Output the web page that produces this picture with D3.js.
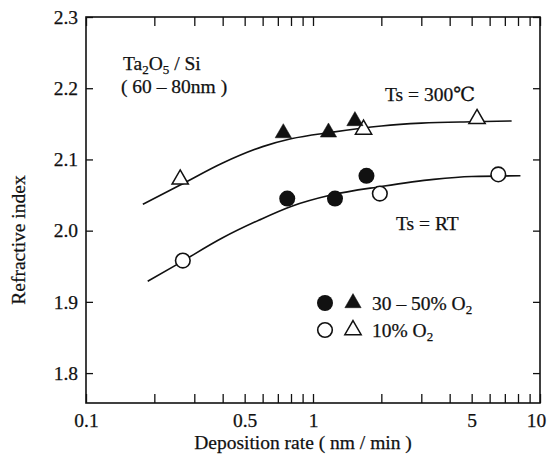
<!DOCTYPE html>
<html><head><meta charset="utf-8">
<script src="https://cdn.jsdelivr.net/npm/d3@7"></script>
<style>
body{margin:0;background:#fff}
svg text{font-family:'Liberation Serif','Times New Roman','DejaVu Serif',serif !important;fill:#111;stroke:#111;stroke-width:0.25px}
</style>
</head><body><svg id="c" width="548" height="458"></svg>
<script>
// ---- data ----
const xTickValues = [0.1,0.2,0.3,0.4,0.5,0.6,0.7,0.8,0.9,1,2,3,4,5,6,7,8,9,10];
const xTickLabels = {0.1:"0.1",0.5:"0.5",1:"1",5:"5",10:"10"};
const yTickValues = [1.8,1.9,2.0,2.1,2.2,2.3];
const yTickLabels = ["1.8","1.9","2.0","2.1","2.2","2.3"];

const filledCircleRate = [0.77,1.25,1.72];
const filledCircleN    = [2.045,2.045,2.077];
const openCircleRate   = [0.267,1.97,6.55];
const openCircleN      = [1.958,2.052,2.079];
const filledTriRate    = [0.74,1.17,1.53];
const filledTriN       = [2.137,2.138,2.154];
const openTriRate      = [0.26,1.67,5.28];
const openTriN         = [2.072,2.142,2.157];

const fit300Rate = [0.178,0.26,0.4,0.6,0.8,1.2,2,3,5,7.5];
const fit300N    = [2.037,2.064,2.095,2.118,2.129,2.138,2.147,2.151,2.153,2.154];
const fitRTRate  = [0.187,0.25,0.4,0.58,0.8,1.2,2,3.4,5,8.2];
const fitRTN     = [1.929,1.952,1.99,2.015,2.034,2.05,2.062,2.072,2.076,2.077];

// ---- drawing ----
const svg = d3.select("#c");
const x = d3.scaleLog().domain([0.1,10]).range([86,540]);
const y = d3.scaleLinear().domain([1.758,2.3]).range([403,17]);
const ink = "#111";
const FS = 19.5;
const SUB = 13;

// axes
const gB = svg.append("g").attr("transform","translate(0,403)")
  .call(d3.axisBottom(x).tickValues(xTickValues).tickSizeInner(-9).tickSizeOuter(0).tickPadding(10.5)
    .tickFormat(d => xTickLabels[d] || ""));
const gT = svg.append("g").attr("transform","translate(0,17)")
  .call(d3.axisTop(x).tickValues(xTickValues).tickSizeInner(-9).tickSizeOuter(0).tickFormat(""));
const gL = svg.append("g").attr("transform","translate(86,0)")
  .call(d3.axisLeft(y).tickValues(yTickValues).tickSizeInner(-7).tickSizeOuter(0).tickPadding(8)
    .tickFormat((d,i) => yTickLabels[i]));
const gR = svg.append("g").attr("transform","translate(540,0)")
  .call(d3.axisRight(y).tickValues(yTickValues).tickSizeInner(-7).tickSizeOuter(0).tickFormat(""));
[gB,gT,gL,gR].forEach(g => {
  g.attr("font-family",null).attr("font-size",FS);
  g.select(".domain").remove();
  g.selectAll(".tick line").attr("stroke",ink).attr("stroke-width",1.3);
  g.selectAll(".tick text").attr("font-size",FS).attr("fill",ink);
});
// keep the last label inside the picture
gB.selectAll(".tick text").filter(d => d === 10).attr("dx",-4);
svg.append("rect").attr("x",86).attr("y",17).attr("width",540-86).attr("height",403-17)
  .attr("fill","none").attr("stroke",ink).attr("stroke-width",1.6);

// axis titles
svg.append("text").attr("x",303).attr("y",449).attr("text-anchor","middle")
  .attr("font-size",FS).text("Deposition rate  ( nm / min )");
svg.append("text").attr("transform","translate(25,240) rotate(-90)").attr("text-anchor","middle")
  .attr("font-size",FS).text("Refractive index");

// fit curves
const line = d3.line().x(d => x(d[0])).y(d => y(d[1])).curve(d3.curveMonotoneX);
svg.append("path").datum(fit300Rate.map((r,i)=>[r,fit300N[i]]))
  .attr("d",line).attr("fill","none").attr("stroke",ink).attr("stroke-width",1.6);
svg.append("path").datum(fitRTRate.map((r,i)=>[r,fitRTN[i]]))
  .attr("d",line).attr("fill","none").attr("stroke",ink).attr("stroke-width",1.6);

// markers
const tri = d3.symbol().type(d3.symbolTriangle).size(115);
function circles(rates, ns, filled){
  svg.append("g").selectAll("circle").data(rates).join("circle")
    .attr("cx",d=>x(d)).attr("cy",(d,i)=>y(ns[i])).attr("r",filled?8:7.3)
    .attr("fill",filled?ink:"#fff").attr("stroke",ink).attr("stroke-width",filled?0:1.6);
}
function tris(rates, ns, filled){
  svg.append("g").selectAll("path").data(rates).join("path")
    .attr("d",tri).attr("transform",(d,i)=>`translate(${x(d)},${y(ns[i])})`)
    .attr("fill",filled?ink:"#fff").attr("stroke",ink).attr("stroke-width",filled?0.5:1.5);
}
circles(openCircleRate, openCircleN, false);
circles(filledCircleRate, filledCircleN, true);
tris(openTriRate, openTriN, false);
tris(filledTriRate, filledTriN, true);

// annotations
const t1 = svg.append("text").attr("x",123).attr("y",70).attr("font-size",FS);
t1.append("tspan").text("Ta");
t1.append("tspan").attr("font-size",SUB).attr("dy",4).text("2");
t1.append("tspan").attr("dy",-4).text("O");
t1.append("tspan").attr("font-size",SUB).attr("dy",4).text("5");
t1.append("tspan").attr("dy",-4).text(" / Si");
svg.append("text").attr("x",121).attr("y",93).attr("font-size",FS).text("( 60 – 80nm )");
svg.append("text").attr("x",385).attr("y",101).attr("font-size",FS).text("Ts = 300℃");
svg.append("text").attr("x",396).attr("y",230).attr("font-size",FS).text("Ts = RT");

// legend
const lg = [{y:303, filled:true, label:["30 – 50% O","2"]},{y:330, filled:false, label:["10% O","2"]}];
lg.forEach(r => {
  svg.append("circle").attr("cx",325).attr("cy",r.y).attr("r",r.filled?8:7.3)
    .attr("fill",r.filled?ink:"#fff").attr("stroke",ink).attr("stroke-width",r.filled?0:1.6);
  svg.append("path").attr("d",tri).attr("transform",`translate(353,${r.y})`)
    .attr("fill",r.filled?ink:"#fff").attr("stroke",ink).attr("stroke-width",r.filled?0.5:1.5);
  const t = svg.append("text").attr("x",372).attr("y",r.y+6.5).attr("font-size",FS);
  t.append("tspan").text(r.label[0]);
  t.append("tspan").attr("font-size",SUB).attr("dy",4).text(r.label[1]);
});
</script>
</body></html>
